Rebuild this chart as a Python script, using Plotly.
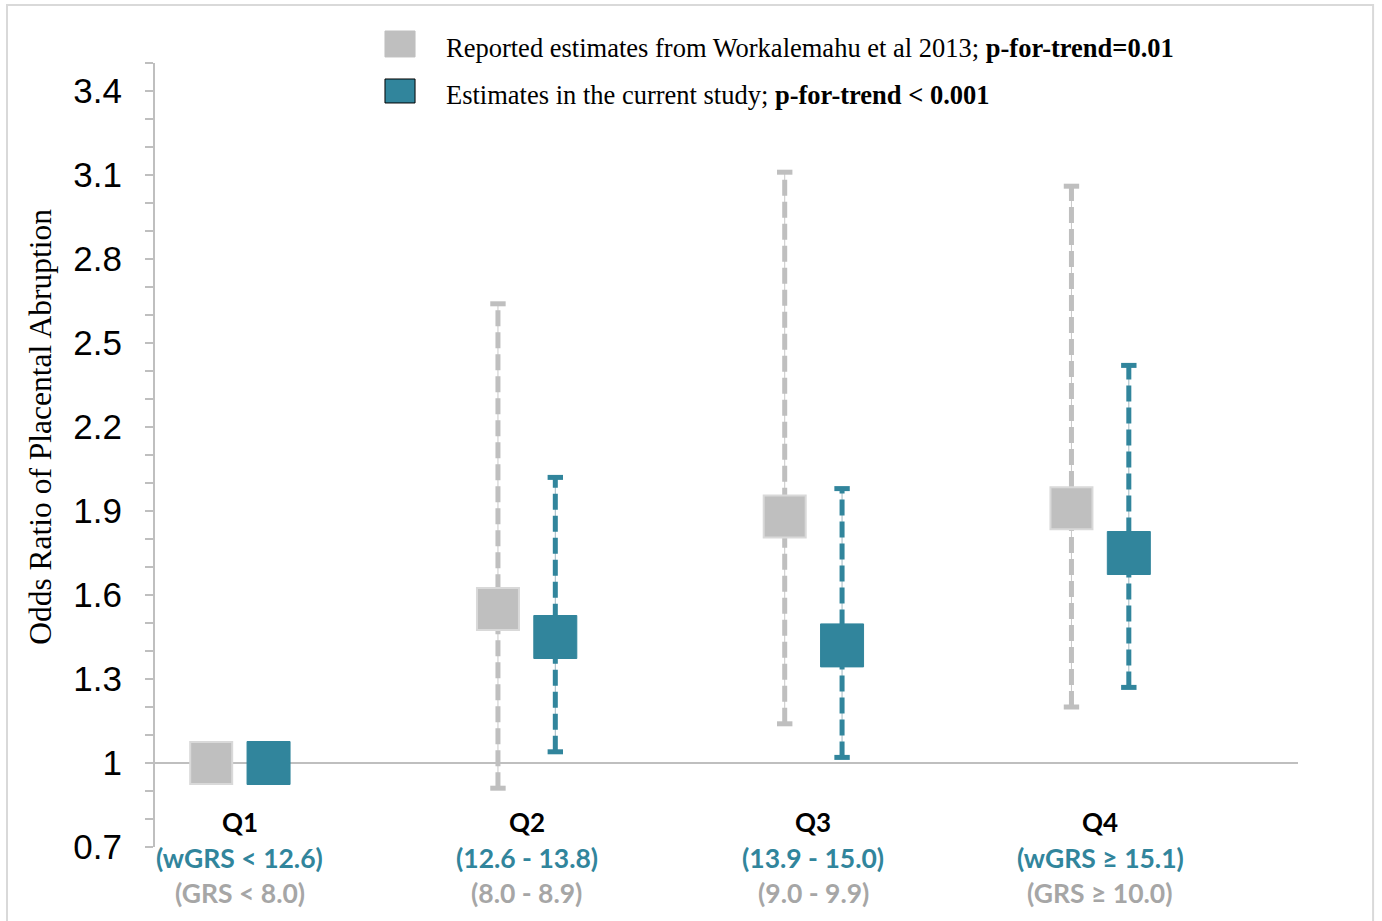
import plotly.graph_objects as go

# ---- data ----
categories = ["Q1", "Q2", "Q3", "Q4"]
wgrs_labels = ["(wGRS < 12.6)", "(12.6 - 13.8)", "(13.9 - 15.0)", "(wGRS ≥ 15.1)"]
grs_labels = ["(GRS < 8.0)", "(8.0 - 8.9)", "(9.0 - 9.9)", "(GRS ≥ 10.0)"]

reported_or = [1.00, 1.55, 1.88, 1.91]
reported_lo = [None, 0.91, 1.14, 1.20]
reported_hi = [None, 2.64, 3.11, 3.06]

current_or = [1.00, 1.45, 1.42, 1.75]
current_lo = [None, 1.04, 1.02, 1.27]
current_hi = [None, 2.02, 1.98, 2.42]

y_tickvals = [0.7, 1.0, 1.3, 1.6, 1.9, 2.2, 2.5, 2.8, 3.1, 3.4]
y_ticktext = ["0.7", "1", "1.3", "1.6", "1.9", "2.2", "2.5", "2.8", "3.1", "3.4"]

GRAY = "#BFBFBF"
TEAL = "#31859C"
OFFSET = 0.1

fig = go.Figure()

def add_ci(xc, lo, hi, color, thin):
    # thin connecting line
    fig.add_trace(go.Scatter(x=[xc, xc], y=[lo, hi], mode="lines",
                             line=dict(color=thin, width=1),
                             showlegend=False, hoverinfo="skip"))
    # dashed thick line
    fig.add_trace(go.Scatter(x=[xc, xc], y=[lo, hi], mode="lines",
                             line=dict(color=color, width=5, dash="16px,6px"),
                             showlegend=False, hoverinfo="skip"))
    # caps
    fig.add_trace(go.Scatter(x=[xc, xc], y=[lo, hi], mode="markers",
                             marker=dict(symbol="line-ew", size=11,
                                         line=dict(color=color, width=5)),
                             showlegend=False, hoverinfo="skip"))

for i in range(len(categories)):
    xc = i + 1
    if reported_lo[i] is not None:
        add_ci(xc - OFFSET, reported_lo[i], reported_hi[i], GRAY, "#C8C8C8")
    if current_lo[i] is not None:
        add_ci(xc + OFFSET, current_lo[i], current_hi[i], TEAL, "#9FB9C2")

xs = [i + 1 for i in range(len(categories))]

fig.add_trace(go.Scatter(
    x=[x - OFFSET for x in xs], y=reported_or, mode="markers",
    marker=dict(symbol="square", size=42, color=GRAY,
                line=dict(color="#D9D9D9", width=2)),
    showlegend=False, hoverinfo="skip"))
fig.add_trace(go.Scatter(
    x=[x + OFFSET for x in xs], y=current_or, mode="markers",
    marker=dict(symbol="square", size=43, color=TEAL,
                line=dict(color=TEAL, width=1)),
    showlegend=False, hoverinfo="skip"))

# reference line at OR = 1
fig.add_shape(type="line", xref="paper", yref="y", x0=0, x1=1, y0=1, y1=1,
              line=dict(color="#BFBFBF", width=2), layer="below")

# outer border
fig.add_shape(type="rect", xref="paper", yref="paper",
              x0=-0.1295, x1=1.0657, y0=-0.2, y1=1.074,
              line=dict(color="#D9D9D9", width=2))

# legend swatches
fig.add_shape(type="rect", xref="paper", yref="paper",
              x0=0.2012, x1=0.2275, y0=1.0077, y1=1.0408,
              fillcolor=GRAY, line=dict(color=GRAY, width=1))
fig.add_shape(type="rect", xref="paper", yref="paper",
              x0=0.2012, x1=0.2275, y0=0.949, y1=0.9796,
              fillcolor=TEAL, line=dict(color="#000000", width=1))

serif = "Liberation Serif"
sans = "Lato"

fig.add_annotation(xref="paper", yref="paper", x=0.2528, y=1.019,
                   xanchor="left", yanchor="middle", showarrow=False,
                   text="Reported estimates from Workalemahu et al 2013; <b>p-for-trend=0.01</b>",
                   font=dict(family=serif, size=26.5, color="#000000"))
fig.add_annotation(xref="paper", yref="paper", x=0.2528, y=0.959,
                   xanchor="left", yanchor="middle", showarrow=False,
                   text="Estimates in the current study; <b>p-for-trend < 0.001</b>",
                   font=dict(family=serif, size=26.5, color="#000000"))

# y axis title
fig.add_annotation(xref="paper", yref="paper", x=-0.1008, y=0.5357,
                   xanchor="center", yanchor="middle", showarrow=False,
                   textangle=-90, text="Odds Ratio of Placental Abruption",
                   font=dict(family=serif, size=31.5, color="#000000"))

# category labels
for i in range(len(categories)):
    xc = i + 1
    fig.add_annotation(x=xc, xref="x", yref="paper", y=0.0325,
                       xanchor="center", yanchor="middle", showarrow=False,
                       text="<b>" + categories[i] + "</b>",
                       font=dict(family=sans, size=26, color="#000000"))
    fig.add_annotation(x=xc, xref="x", yref="paper", y=-0.0135,
                       xanchor="center", yanchor="middle", showarrow=False,
                       text="<b>" + wgrs_labels[i] + "</b>",
                       font=dict(family=sans, size=26.5, color=TEAL))
    fig.add_annotation(x=xc, xref="x", yref="paper", y=-0.0585,
                       xanchor="center", yanchor="middle", showarrow=False,
                       text="<b>" + grs_labels[i] + "</b>",
                       font=dict(family=sans, size=26.5, color="#A6A6A6"))

fig.update_layout(
    width=1382, height=921,
    margin=dict(l=155, r=84, t=63, b=74),
    paper_bgcolor="white", plot_bgcolor="white",
    showlegend=False,
    xaxis=dict(range=[0.704, 4.69], showgrid=False, zeroline=False,
               showline=False, showticklabels=False, ticks=""),
    yaxis=dict(range=[0.7, 3.5], showgrid=False, zeroline=False,
               showline=True, linecolor="#BFBFBF", linewidth=2,
               tickmode="array", tickvals=y_tickvals, ticktext=y_ticktext,
               ticks="outside", ticklen=8, tickcolor="#BFBFBF", tickwidth=2,
               ticklabelstandoff=16,
               tickfont=dict(family="Liberation Sans", size=35, color="#000000"),
               minor=dict(dtick=0.1, tick0=0.7, ticks="outside", ticklen=8,
                          tickcolor="#BFBFBF", tickwidth=2, showgrid=False)),
)

fig.write_html("out.html")
